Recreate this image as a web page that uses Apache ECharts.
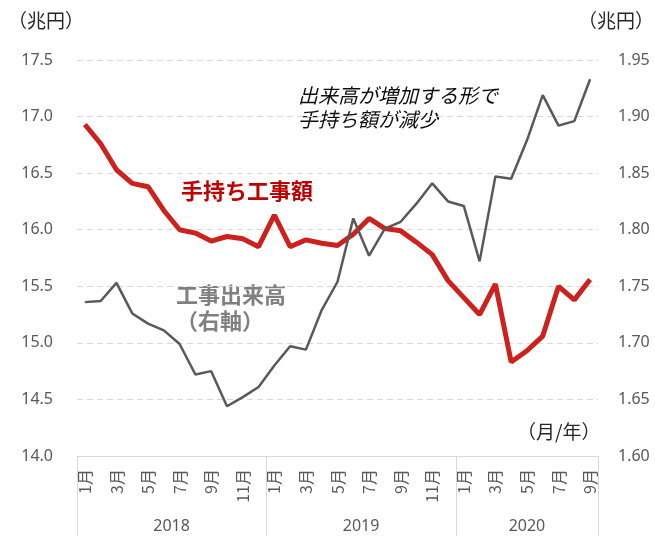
<!DOCTYPE html>
<html>
<head>
<meta charset="utf-8">
<script src="https://cdn.jsdelivr.net/npm/echarts@6/dist/echarts.min.js"></script>
<style>
	html, body { margin: 0; padding: 0; background: #fff; }
	#chart { width: 655px; height: 536px; }
</style>
</head>
<body>
<div id="chart"></div>
<script>
// 月ラベル (2018/1 - 2020/9)
var months = [
	'1月', '2月', '3月', '4月', '5月', '6月', '7月', '8月', '9月', '10月', '11月', '12月',
	'1月', '2月', '3月', '4月', '5月', '6月', '7月', '8月', '9月', '10月', '11月', '12月',
	'1月', '2月', '3月', '4月', '5月', '6月', '7月', '8月', '9月'
];
var years = ['2018', '2019', '2020'];
var yearCount = [12, 12, 9];

// 手持ち工事額 (左軸, 兆円)
var backlog = [
	16.93, 16.76, 16.53, 16.41, 16.38, 16.17, 16.00, 15.97, 15.90, 15.94, 15.92, 15.85,
	16.13, 15.85, 15.91, 15.88, 15.86, 15.96, 16.10, 16.01, 15.99, 15.89, 15.78, 15.55,
	15.40, 15.25, 15.52, 14.83, 14.93, 15.06, 15.50, 15.38, 15.56
];
// 工事出来高 (右軸, 兆円)
var output = [
	1.736, 1.737, 1.753, 1.726, 1.717, 1.711, 1.699, 1.672, 1.675, 1.644, 1.652, 1.661,
	1.680, 1.697, 1.694, 1.729, 1.754, 1.810, 1.777, 1.801, 1.807, 1.823, 1.841, 1.825,
	1.821, 1.772, 1.847, 1.845, 1.879, 1.919, 1.892, 1.896, 1.933
];

var fontFamily = "'Noto Sans', 'Noto Sans CJK JP', sans-serif";
var jpFont = "'Noto Sans CJK JP', sans-serif";

// 年の区切り位置と年ラベル位置
var yearStart = [];
var yearLabelAt = {};
(function () {
	var s = 0;
	for (var i = 0; i < yearCount.length; i++) {
		yearStart.push(s);
		yearLabelAt[Math.floor(s + yearCount[i] / 2)] = {
			text: years[i],
			even: yearCount[i] % 2 === 0
		};
		s += yearCount[i];
	}
})();

var chart = echarts.init(document.getElementById('chart'));

var option = {
	animation: false,
	textStyle: { fontFamily: fontFamily },
	grid: { left: 77, right: 57, top: 60, bottom: 80 },
	xAxis: [{
		type: 'category',
		data: months,
		boundaryGap: true,
		axisLine: { lineStyle: { color: '#d9d9d9', width: 1 } },
		axisTick: { show: false },
		axisLabel: {
			interval: 1,
			rotate: 90,
			margin: 13,
			color: '#595959',
			fontSize: 16,
			fontFamily: jpFont
		}
	}, {
		type: 'category',
		data: months,
		position: 'bottom',
		boundaryGap: true,
		axisLine: { show: false },
		axisTick: {
			show: true,
			length: 80,
			interval: function (index) {
				return yearStart.indexOf(index) >= 0;
			},
			lineStyle: { color: '#d9d9d9', width: 1 }
		},
		axisLabel: {
			margin: 62,
			color: '#595959',
			fontSize: 16,
			interval: function (index) {
				return !!yearLabelAt[index];
			},
			formatter: function (value, index) {
				var y = yearLabelAt[index];
				if (!y) return '';
				// 偶数月数の年は境界の真ん中に寄せる
				return y.even ? '{s|' + y.text + '}' : y.text;
			},
			rich: {
				s: { padding: [0, 16, 0, 0], fontSize: 16, color: '#595959' }
			}
		}
	}],
	yAxis: [{
		type: 'value',
		min: 14.0,
		max: 17.5,
		interval: 0.5,
		axisLine: { show: false },
		axisTick: { show: false },
		axisLabel: {
			margin: 24,
			color: '#595959',
			fontSize: 16,
			formatter: function (v) { return v.toFixed(1); }
		},
		splitLine: { lineStyle: { color: '#d9d9d9', type: [6, 4], width: 1 } }
	}, {
		type: 'value',
		min: 1.60,
		max: 1.95,
		interval: 0.05,
		axisLine: { show: false },
		axisTick: { show: false },
		axisLabel: {
			margin: 20,
			color: '#595959',
			fontSize: 16,
			formatter: function (v) { return v.toFixed(2); }
		},
		splitLine: { show: false }
	}],
	series: [{
		name: '手持ち工事額',
		type: 'line',
		yAxisIndex: 0,
		data: backlog,
		symbol: 'none',
		lineStyle: { color: '#cc211c', width: 5 },
		z: 2
	}, {
		name: '工事出来高',
		type: 'line',
		yAxisIndex: 1,
		data: output,
		symbol: 'none',
		lineStyle: { color: '#595959', width: 2.5 },
		z: 3
	}],
	// 注記テキスト
	graphic: [{
		type: 'text', left: 8, top: 11,
		style: { text: '（兆円）', fontSize: 19, fill: '#262626', fontFamily: jpFont }
	}, {
		type: 'text', left: 578, top: 11,
		style: { text: '（兆円）', fontSize: 19, fill: '#262626', fontFamily: jpFont }
	}, {
		type: 'text', left: 298, top: 83,
		style: {
			text: '出来高が増加する形で\n手持ち額が減少',
			fontSize: 20, lineHeight: 24, fontStyle: 'italic',
			fill: '#0d0d0d', fontFamily: jpFont
		}
	}, {
		type: 'text', left: 181, top: 180,
		style: {
			text: '手持ち工事額', fontSize: 22, fontWeight: 'bold',
			fill: '#c00000', fontFamily: jpFont
		}
	}, {
		type: 'text', left: 176, top: 282,
		style: {
			text: '工事出来高\n（右軸）', fontSize: 22, lineHeight: 26, fontWeight: 'bold',
			fill: '#808080', fontFamily: jpFont
		}
	}, {
		type: 'text', left: 517, top: 422,
		style: { text: '（月/年）', fontSize: 19, fill: '#262626', fontFamily: jpFont }
	}]
};

chart.setOption(option);

window.onresize = function () {
	setTimeout(function () {
		chart.resize();
	}, 200);
};
</script>
</body>
</html>
